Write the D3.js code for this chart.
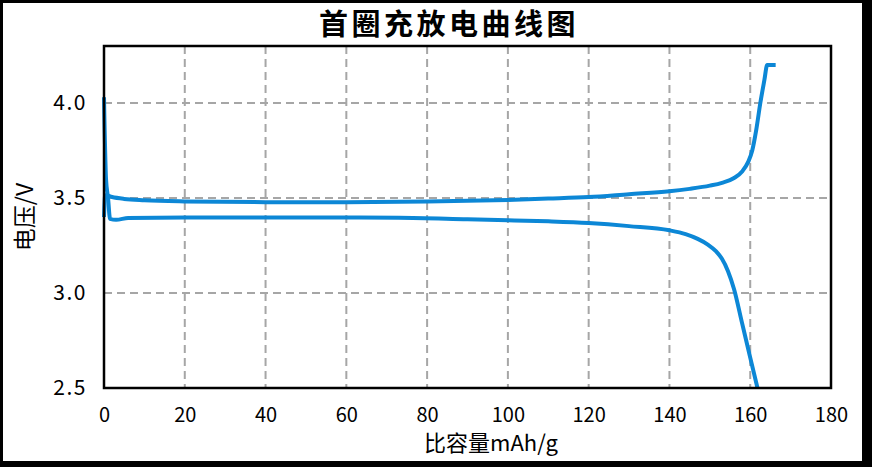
<!DOCTYPE html>
<html>
<head>
<meta charset="utf-8">
<script src="https://cdn.jsdelivr.net/npm/d3@7"></script>
<style>
  body { margin: 0; background: #fff; }
  text { font-family: "Noto Sans CJK SC", "DejaVu Sans", sans-serif; fill: #000; }
</style>
</head>
<body>
<div id="chart"></div>
<script>
// 首次充电曲线 (比容量 mAh/g, 电压 V)
const chargeCap = [0, 0.3, 2, 5, 10, 20, 40, 60, 80, 100, 110, 120, 130, 140, 145, 150, 153, 156, 158, 159.5, 160.5, 161.5, 162.5, 163.5, 164.2, 166.3];
const chargeVolt = [3.40, 3.515, 3.505, 3.495, 3.488, 3.482, 3.478, 3.478, 3.482, 3.49, 3.497, 3.505, 3.52, 3.535, 3.548, 3.565, 3.58, 3.605, 3.64, 3.69, 3.75, 3.86, 4.0, 4.12, 4.2, 4.2];

// 首次放电曲线
const dischargeCap = [0, 0.5, 1, 1.5, 3, 6, 20, 40, 60, 73, 90, 100, 110, 120, 130, 140, 144, 147, 149.5, 151.5, 153, 154.5, 156, 158, 160, 161.8];
const dischargeVolt = [4.03, 3.6, 3.5, 3.39, 3.385, 3.395, 3.398, 3.398, 3.397, 3.396, 3.388, 3.383, 3.377, 3.368, 3.352, 3.33, 3.31, 3.285, 3.255, 3.22, 3.18, 3.115, 3.02, 2.84, 2.66, 2.5];

const xTicks = [0, 20, 40, 60, 80, 100, 120, 140, 160, 180];
const yTicks = [2.5, 3.0, 3.5, 4.0];

const title = "首圈充放电曲线图";
const xLabel = "比容量mAh/g";
const yLabel = "电压/V";

const width = 872, height = 467;
const margin = {top: 46, right: 41, bottom: 79, left: 104};
const lineColor = "#0c87d6";

const svg = d3.select("#chart").append("svg")
    .attr("width", width)
    .attr("height", height);

// outer frame
svg.append("rect").attr("width", width).attr("height", height).attr("fill", "#000");
svg.append("rect").attr("x", 3).attr("y", 3).attr("width", 859).attr("height", 458).attr("fill", "#fff");

const xScale = d3.scaleLinear()
    .domain([0, 180])
    .range([margin.left, width - margin.right]);

const yScale = d3.scaleLinear()
    .domain([2.5, 4.3])
    .range([height - margin.bottom, margin.top]);

// grid
const grid = svg.append("g")
    .attr("stroke", "#a6a6a6")
    .attr("stroke-width", 2)
    .attr("stroke-dasharray", "8,5");

grid.selectAll(".vgrid")
    .data(xTicks.filter(d => d > 0 && d < 180))
    .enter()
    .append("line")
    .attr("x1", d => xScale(d))
    .attr("x2", d => xScale(d))
    .attr("y1", yScale(4.3))
    .attr("y2", yScale(2.5));

grid.selectAll(".hgrid")
    .data(yTicks.filter(d => d > 2.5))
    .enter()
    .append("line")
    .attr("x1", xScale(0))
    .attr("x2", xScale(180))
    .attr("y1", d => yScale(d))
    .attr("y2", d => yScale(d));

// curves
const line = d3.line()
    .x(d => xScale(d[0]))
    .y(d => yScale(d[1]))
    .curve(d3.curveMonotoneX);

const charge = chargeCap.map((c, i) => [c, chargeVolt[i]]);
const discharge = dischargeCap.map((c, i) => [c, dischargeVolt[i]]);

svg.selectAll(".curve")
    .data([discharge, charge])
    .enter()
    .append("path")
    .attr("d", line)
    .attr("fill", "none")
    .attr("stroke", lineColor)
    .attr("stroke-width", 4)
    .attr("stroke-linejoin", "round")
    .attr("stroke-linecap", "butt");

// plot border
svg.append("rect")
    .attr("x", xScale(0))
    .attr("y", yScale(4.3))
    .attr("width", xScale(180) - xScale(0))
    .attr("height", yScale(2.5) - yScale(4.3))
    .attr("fill", "none")
    .attr("stroke", "#000")
    .attr("stroke-width", 2.5);

// axes
const xAxis = d3.axisBottom(xScale).tickValues(xTicks).tickSize(0).tickPadding(19);
const yAxis = d3.axisLeft(yScale).tickValues(yTicks).tickSize(0).tickPadding(17).tickFormat(d3.format(".1f"));

const gx = svg.append("g")
    .attr("transform", `translate(0,${yScale(2.5)})`)
    .call(xAxis);
gx.select(".domain").remove();
gx.selectAll("text")
    .attr("font-size", 20)
    .attr("font-family", "'Noto Sans CJK SC', sans-serif")
    .attr("dy", "0.74em");

const gy = svg.append("g")
    .attr("transform", `translate(${xScale(0)},0)`)
    .call(yAxis);
gy.select(".domain").remove();
gy.selectAll("text")
    .attr("font-size", 21)
    .attr("font-family", "'Noto Sans CJK SC', sans-serif")
    .attr("letter-spacing", 1.5);

// title & labels
svg.append("text")
    .attr("x", 449)
    .attr("y", 35)
    .attr("text-anchor", "middle")
    .attr("font-size", 29)
    .attr("font-weight", "bold")
    .attr("letter-spacing", 3.5)
    .text(title);

svg.append("text")
    .attr("x", 491)
    .attr("y", 451)
    .attr("text-anchor", "middle")
    .attr("font-size", 22)
    .text(xLabel);

svg.append("text")
    .attr("transform", "translate(33,217) rotate(-90)")
    .attr("text-anchor", "middle")
    .attr("font-size", 23)
    .text(yLabel);
</script>
</body>
</html>
